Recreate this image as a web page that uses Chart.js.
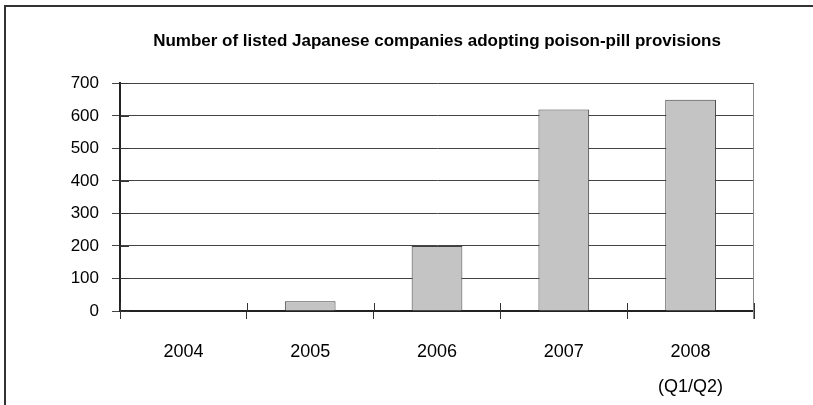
<!DOCTYPE html>
<html>
<head>
<meta charset="utf-8">
<script src="https://cdn.jsdelivr.net/npm/chart.js@4"></script>
<style>
  html, body { margin: 0; padding: 0; background: #fff; }
  #wrap { position: relative; width: 813px; height: 405px; }
  #frame {
    position: absolute; left: 4px; top: 5px; right: 0; bottom: 0;
    border-top: 2px solid #333; border-left: 2px solid #333;
    pointer-events: none;
  }
  canvas { position: absolute; left: 0; top: 0; }
</style>
</head>
<body>
<div id="wrap">
  <canvas id="pillChart" width="813" height="405"></canvas>
  <div id="frame"></div>
</div>
<script>
// listed companies with poison-pill provisions, by year
const years = ['2004', '2005', '2006', '2007', ['2008', '(Q1/Q2)']];
const adopters = [0, 30, 200, 620, 650];
const yMin = 0;
const yMax = 700;
const yStep = 100;

const FONT = "'Liberation Sans', Arial, sans-serif";

// short tick marks that cross the axes, plus the right edge of the plot
const axisTicks = {
    id: 'axisTicks',
    afterDraw(chart) {
        const ctx = chart.ctx;
        const x = chart.scales.x;
        const y = chart.scales.y;
        ctx.save();
        ctx.strokeStyle = '#333';
        ctx.lineWidth = 1;
        for (let i = 0; i <= years.length; i++) {
            const px = Math.round(x.getPixelForValue(i - 0.5)) + 0.5;
            ctx.beginPath();
            ctx.moveTo(px, y.bottom);
            ctx.lineTo(px, y.bottom - 8);
            ctx.stroke();
        }
        for (let v = yMin; v <= yMax; v += yStep) {
            const py = Math.round(y.getPixelForValue(v)) + 0.5;
            ctx.beginPath();
            ctx.moveTo(x.left, py);
            ctx.lineTo(x.left + 9, py);
            ctx.stroke();
        }
        ctx.strokeStyle = '#888';
        const rx = Math.round(x.right) - 0.5;
        ctx.beginPath();
        ctx.moveTo(rx, y.top);
        ctx.lineTo(rx, y.bottom + 8);
        ctx.stroke();
        ctx.restore();
    }
};

new Chart(document.getElementById('pillChart'), {
    type: 'bar',
    data: {
        labels: years,
        datasets: [{
            label: 'Companies',
            data: adopters,
            backgroundColor: '#c4c4c4',
            borderColor: '#404040',
            borderWidth: 1,
            categoryPercentage: 1,
            barPercentage: 0.4
        }]
    },
    options: {
        responsive: false,
        animation: false,
        layout: { padding: { left: 0, right: 59, top: 0, bottom: 0 } },
        plugins: {
            legend: { display: false },
            tooltip: { enabled: false },
            title: {
                display: true,
                fullSize: false,
                text: 'Number of listed Japanese companies adopting poison-pill provisions',
                color: '#000',
                font: { family: FONT, size: 17, weight: 'bold' },
                padding: { top: 31, bottom: 32 }
            }
        },
        scales: {
            x: {
                afterFit(scale) { scale.height = 94; },
                grid: {
                    offset: true,
                    drawOnChartArea: false,
                    tickLength: 8,
                    color: '#333'
                },
                border: { color: '#222', width: 2 },
                ticks: {
                    color: '#000',
                    padding: 16,
                    maxRotation: 0,
                    font: { family: FONT, size: 18, lineHeight: 1.94 }
                }
            },
            y: {
                min: yMin,
                max: yMax,
                afterFit(scale) { scale.width = 120; },
                grid: { color: '#444', tickLength: 8 },
                border: { color: '#222', width: 2 },
                ticks: {
                    stepSize: yStep,
                    color: '#000',
                    padding: 13,
                    font: { family: FONT, size: 17 }
                }
            }
        }
    },
    plugins: [axisTicks]
});
</script>
</body>
</html>
